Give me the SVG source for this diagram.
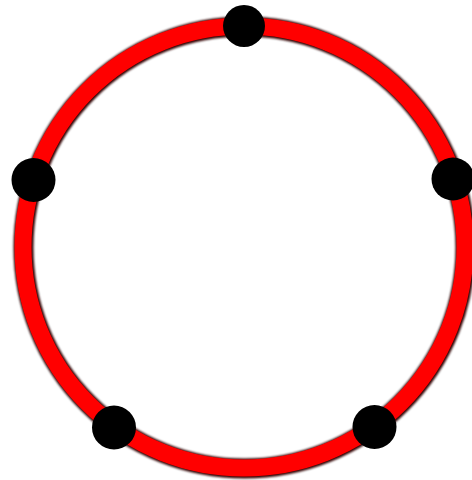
<svg xmlns="http://www.w3.org/2000/svg" width="472" height="480" viewBox="0 0 472 480">
  <defs>
    <filter id="soft" x="-20%" y="-20%" width="140%" height="140%">
      <feGaussianBlur stdDeviation="1"/>
    </filter>
  </defs>
  <style>
    .shadow { fill: none; stroke: #300000; stroke-width: 20; }
    .ring { fill: none; stroke: #ff0000; stroke-width: 17; }
    .node { fill: #000000; }
  </style>
  <rect width="472" height="480" fill="#ffffff"/>
  <g id="connectors">
    <circle class="shadow" cx="244.5" cy="247.5" r="221" filter="url(#soft)"/>
    <circle class="ring" cx="244" cy="247" r="221"/>
  </g>
  <g id="node-top"><circle class="node" cx="244" cy="26" r="21"/></g>
  <g id="node-right"><circle class="node" cx="453" cy="179" r="21.5"/></g>
  <g id="node-bottom-right"><circle class="node" cx="374.5" cy="427" r="22"/></g>
  <g id="node-bottom-left"><circle class="node" cx="114" cy="427.5" r="22"/></g>
  <g id="node-left"><circle class="node" cx="33.5" cy="180" r="22"/></g>
</svg>
